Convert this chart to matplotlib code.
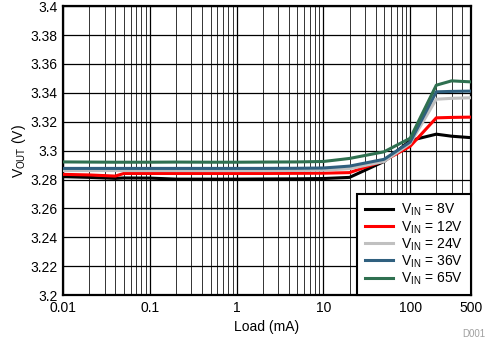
import matplotlib
matplotlib.use('Agg')
import matplotlib.pyplot as plt
from matplotlib.ticker import FixedLocator, LogLocator, NullFormatter

plt.rcParams['font.family'] = ['Liberation Sans', 'DejaVu Sans']
plt.rcParams['mathtext.fontset'] = 'custom'
plt.rcParams['mathtext.rm'] = 'Liberation Sans'

load_ma = [0.01, 0.02, 0.04, 0.05, 0.1, 0.2, 0.5, 1, 2, 5, 10, 20, 50, 100, 200, 300, 500]

vout_8v = [3.2820, 3.2815, 3.2808, 3.2811, 3.2810, 3.2803, 3.2803, 3.2803, 3.2804, 3.2805, 3.2807,
           3.2815, 3.2925, 3.3070, 3.3114, 3.3100, 3.3090]
vout_12v = [3.2836, 3.2832, 3.2824, 3.2842, 3.2842, 3.2842, 3.2842, 3.2842, 3.2842, 3.2843, 3.2844,
            3.2848, 3.2930, 3.3030, 3.3227, 3.3230, 3.3232]
vout_24v = [3.2862, 3.2862, 3.2862, 3.2862, 3.2862, 3.2862, 3.2862, 3.2862, 3.2862, 3.2863, 3.2865,
            3.2875, 3.2925, 3.3050, 3.3356, 3.3362, 3.3366]
vout_36v = [3.2877, 3.2877, 3.2877, 3.2877, 3.2877, 3.2877, 3.2877, 3.2877, 3.2877, 3.2878, 3.2880,
            3.2893, 3.2940, 3.3060, 3.3407, 3.3410, 3.3412]
vout_65v = [3.2922, 3.2921, 3.2920, 3.2920, 3.2920, 3.2921, 3.2920, 3.2920, 3.2921, 3.2922, 3.2925,
            3.2946, 3.2992, 3.3086, 3.3453, 3.3483, 3.3476]

series = [
    (vout_8v, 'black', r'V$_{\mathregular{IN}}$ = 8V'),
    (vout_12v, '#ff0000', r'V$_{\mathregular{IN}}$ = 12V'),
    (vout_24v, '#c0c0c0', r'V$_{\mathregular{IN}}$ = 24V'),
    (vout_36v, '#30607f', r'V$_{\mathregular{IN}}$ = 36V'),
    (vout_65v, '#2f7050', r'V$_{\mathregular{IN}}$ = 65V'),
]

xticks = [0.01, 0.1, 1, 10, 100, 500]
xticklabels = ['0.01', '0.1', '1', '10', '100', '500']
yticks = [3.2, 3.22, 3.24, 3.26, 3.28, 3.3, 3.32, 3.34, 3.36, 3.38, 3.4]

fig = plt.figure(figsize=(4.93, 3.42), dpi=100)
ax = fig.add_axes([0.128, 0.137, 0.827, 0.845])

for y, c, lab in series:
    ax.plot(load_ma, y, color=c, lw=2.2, label=lab, zorder=3)

ax.set_xscale('log')
ax.set_xlim(0.01, 500)
ax.set_ylim(3.2, 3.4)
ax.xaxis.set_major_locator(FixedLocator(xticks))
ax.set_xticklabels(xticklabels)
ax.xaxis.set_minor_locator(LogLocator(base=10, subs=range(2, 10), numticks=20))
ax.xaxis.set_minor_formatter(NullFormatter())
ax.set_yticks(yticks)
ax.set_yticklabels([f'{v:g}' for v in yticks])

ax.grid(True, which='major', color='black', lw=0.9)
ax.grid(True, which='minor', axis='x', color='#333333', lw=0.7)
ax.tick_params(which='both', length=0, labelsize=10, pad=4)
for s in ax.spines.values():
    s.set_linewidth(1.6)

ax.set_xlabel('Load (mA)', fontsize=10, labelpad=4)
ax.set_ylabel(r'V$_{\mathregular{OUT}}$ (V)', fontsize=10, labelpad=2)

leg = ax.legend(loc='lower right', fontsize=10, fancybox=False, framealpha=1,
                edgecolor='black', borderaxespad=0, handlelength=2.0,
                labelspacing=0.05, borderpad=0.6, handletextpad=0.55)
leg.get_frame().set_linewidth(1.5)
leg.set_zorder(5)

fig.text(0.985, 0.01, 'D001', fontsize=7, color='#a0a0a0', ha='right', va='bottom')

fig.savefig('out.png', dpi=100)
